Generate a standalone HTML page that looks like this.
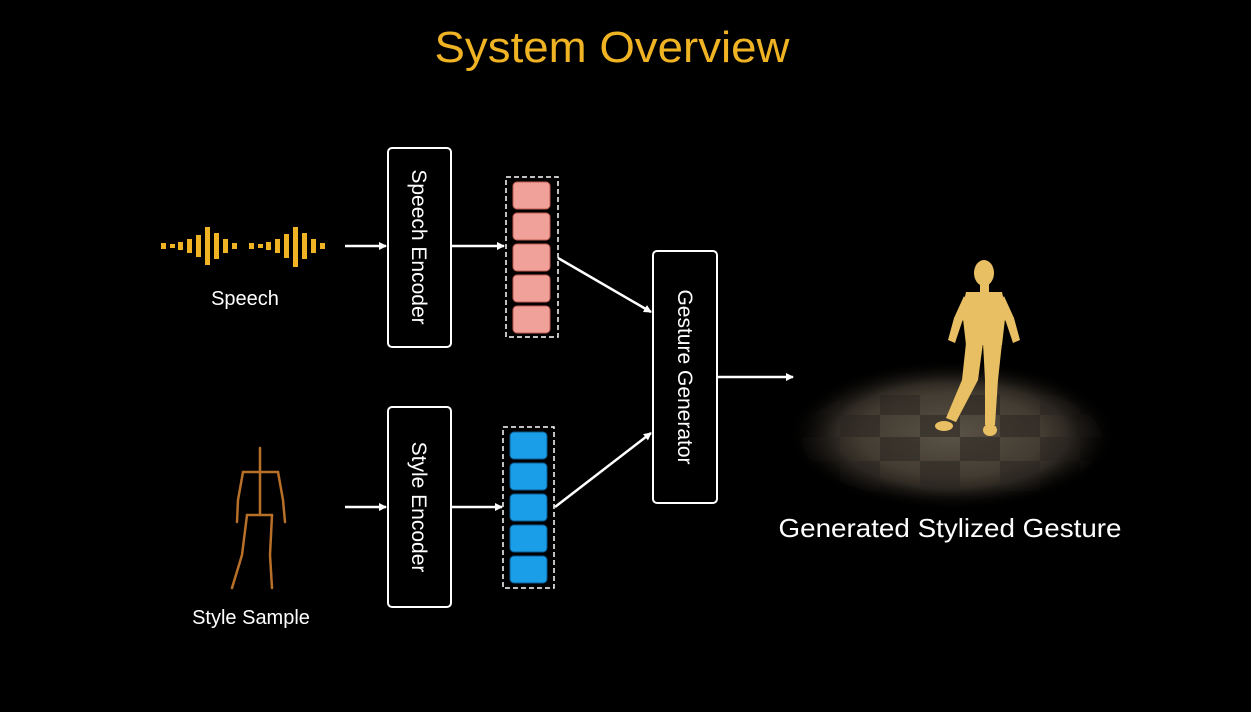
<!DOCTYPE html>
<html><head><meta charset="utf-8"><style>
html,body{margin:0;padding:0;background:#000;}
body{width:1251px;height:707px;overflow:hidden;}
</style></head><body>
<svg width="1251" height="707" viewBox="0 0 1251 707" xmlns="http://www.w3.org/2000/svg">
<defs>
<radialGradient id="spot" cx="50%" cy="50%" r="50%">
<stop offset="0" stop-color="#5a5246"/><stop offset="0.55" stop-color="#433c32"/><stop offset="0.85" stop-color="#1a1713"/><stop offset="1" stop-color="#000"/>
</radialGradient>
<radialGradient id="fade" cx="50%" cy="50%" r="50%">
<stop offset="0" stop-color="#000" stop-opacity="0"/><stop offset="0.7" stop-color="#000" stop-opacity="0"/><stop offset="1" stop-color="#000" stop-opacity="1"/>
</radialGradient>
<marker id="ah" markerWidth="8" markerHeight="8" refX="7" refY="4" orient="auto" markerUnits="userSpaceOnUse"><path d="M0,0 L8,4 L0,8 z" fill="#fff"/></marker>
<clipPath id="ec"><ellipse cx="952" cy="440" rx="150" ry="62"/></clipPath>
</defs>
<rect width="1251" height="707" fill="#000"/>
<text x="612" y="62" text-anchor="middle" font-family="Liberation Sans, sans-serif" font-size="44" fill="#f0b323" textLength="355" lengthAdjust="spacingAndGlyphs">System Overview</text>

<g fill="#f0b323">
<rect x="161" y="243" width="5" height="6"/><rect x="170" y="244" width="5" height="4"/><rect x="178" y="242" width="5" height="8"/>
<rect x="187" y="239" width="5" height="14"/><rect x="196" y="235" width="5" height="22"/><rect x="205" y="227" width="5" height="38"/>
<rect x="214" y="233" width="5" height="26"/><rect x="223" y="239" width="5" height="14"/><rect x="232" y="243" width="5" height="6"/>
<rect x="249" y="243" width="5" height="6"/><rect x="258" y="244" width="5" height="4"/><rect x="266" y="242" width="5" height="8"/>
<rect x="275" y="239" width="5" height="14"/><rect x="284" y="234" width="5" height="24"/><rect x="293" y="227" width="5" height="40"/>
<rect x="302" y="233" width="5" height="26"/><rect x="311" y="239" width="5" height="14"/><rect x="320" y="243" width="5" height="6"/>
</g>
<text x="245" y="305" text-anchor="middle" font-family="Liberation Sans, sans-serif" font-size="20" fill="#fff">Speech</text>

<g stroke="#b87028" stroke-width="2.5" fill="none" stroke-linecap="round">
<line x1="260" y1="448" x2="260" y2="468"/>
<line x1="243" y1="472" x2="278" y2="472"/>
<line x1="260" y1="468" x2="260" y2="515"/>
<polyline points="243,472 238,500 237,522"/>
<polyline points="278,472 283,500 285,522"/>
<line x1="247" y1="515" x2="272" y2="515"/>
<polyline points="247,515 242,555 232,588"/>
<polyline points="272,515 270,555 272,588"/>
</g>
<text x="251" y="624" text-anchor="middle" font-family="Liberation Sans, sans-serif" font-size="20" fill="#fff">Style Sample</text>

<g stroke="#fff" stroke-width="2.5" fill="none">
<line x1="345" y1="246" x2="386" y2="246" marker-end="url(#ah)"/>
<line x1="452" y1="246" x2="504" y2="246" marker-end="url(#ah)"/>
<line x1="558" y1="258" x2="651" y2="312" marker-end="url(#ah)"/>
<line x1="345" y1="507" x2="386" y2="507" marker-end="url(#ah)"/>
<line x1="452" y1="507" x2="502" y2="507" marker-end="url(#ah)"/>
<line x1="555" y1="507" x2="651" y2="433" marker-end="url(#ah)"/>
<line x1="718" y1="377" x2="793" y2="377" marker-end="url(#ah)"/>
</g>

<g stroke="#fff" stroke-width="2" fill="#000">
<rect x="388" y="148" width="63" height="199" rx="4"/>
<rect x="388" y="407" width="63" height="200" rx="4"/>
<rect x="653" y="251" width="64" height="252" rx="4"/>
</g>
<g font-family="Liberation Sans, sans-serif" font-size="21" fill="#fff" text-anchor="middle">
<text transform="translate(412,247) rotate(90)">Speech Encoder</text>
<text transform="translate(412,507) rotate(90)">Style Encoder</text>
<text transform="translate(678,377) rotate(90)">Gesture Generator</text>
</g>

<rect x="506" y="177" width="52" height="160" fill="none" stroke="#fff" stroke-width="1.5" stroke-dasharray="5,3"/>
<g fill="#f0a29a" stroke="#c05a50" stroke-width="1">
<rect x="513" y="182" width="37" height="27" rx="4"/><rect x="513" y="213" width="37" height="27" rx="4"/><rect x="513" y="244" width="37" height="27" rx="4"/><rect x="513" y="275" width="37" height="27" rx="4"/><rect x="513" y="306" width="37" height="27" rx="4"/>
</g>
<rect x="503" y="427" width="51" height="161" fill="none" stroke="#fff" stroke-width="1.5" stroke-dasharray="5,3"/>
<g fill="#1a9ee8" stroke="#0b5a8f" stroke-width="1">
<rect x="510" y="432" width="37" height="27" rx="4"/><rect x="510" y="463" width="37" height="27" rx="4"/><rect x="510" y="494" width="37" height="27" rx="4"/><rect x="510" y="525" width="37" height="27" rx="4"/><rect x="510" y="556" width="37" height="27" rx="4"/>
</g>

<ellipse cx="952" cy="435" rx="165" ry="75" fill="url(#spot)"/>
<g clip-path="url(#ec)" fill="#2a2621" opacity="0.55">
<rect x="800" y="395" width="40" height="20"/><rect x="880" y="395" width="40" height="20"/><rect x="960" y="395" width="40" height="20"/><rect x="1040" y="395" width="40" height="20"/>
<rect x="840" y="415" width="40" height="22"/><rect x="920" y="415" width="40" height="22"/><rect x="1000" y="415" width="40" height="22"/><rect x="1080" y="415" width="40" height="22"/>
<rect x="800" y="437" width="40" height="24"/><rect x="880" y="437" width="40" height="24"/><rect x="960" y="437" width="40" height="24"/><rect x="1040" y="437" width="40" height="24"/>
<rect x="840" y="461" width="40" height="30"/><rect x="920" y="461" width="40" height="30"/><rect x="1000" y="461" width="40" height="30"/><rect x="1080" y="461" width="40" height="30"/>
</g>
<ellipse cx="952" cy="435" rx="165" ry="75" fill="url(#fade)"/>
<g fill="#e8bf62">
<ellipse cx="984" cy="273" rx="10" ry="13"/>
<rect x="980" y="284" width="9" height="8"/>
<path d="M966,292 L1002,292 L1006,310 L1002,345 L966,345 L962,310 Z"/>
<path d="M964,296 L954,318 L948,340 L955,343 L962,322 L970,306 Z"/>
<path d="M1004,296 L1014,318 L1020,340 L1013,343 L1006,322 L998,306 Z"/>
<path d="M966,343 L983,343 L978,380 L956,422 L946,418 L962,380 Z"/>
<path d="M983,343 L1002,343 L998,380 L995,425 L985,425 L985,380 Z"/>
<ellipse cx="944" cy="426" rx="9" ry="5"/><ellipse cx="990" cy="430" rx="7" ry="6"/>
</g>
<text x="950" y="537" text-anchor="middle" font-family="Liberation Sans, sans-serif" font-size="26" fill="#fff" textLength="343" lengthAdjust="spacingAndGlyphs">Generated Stylized Gesture</text>
</svg>
</body></html>
